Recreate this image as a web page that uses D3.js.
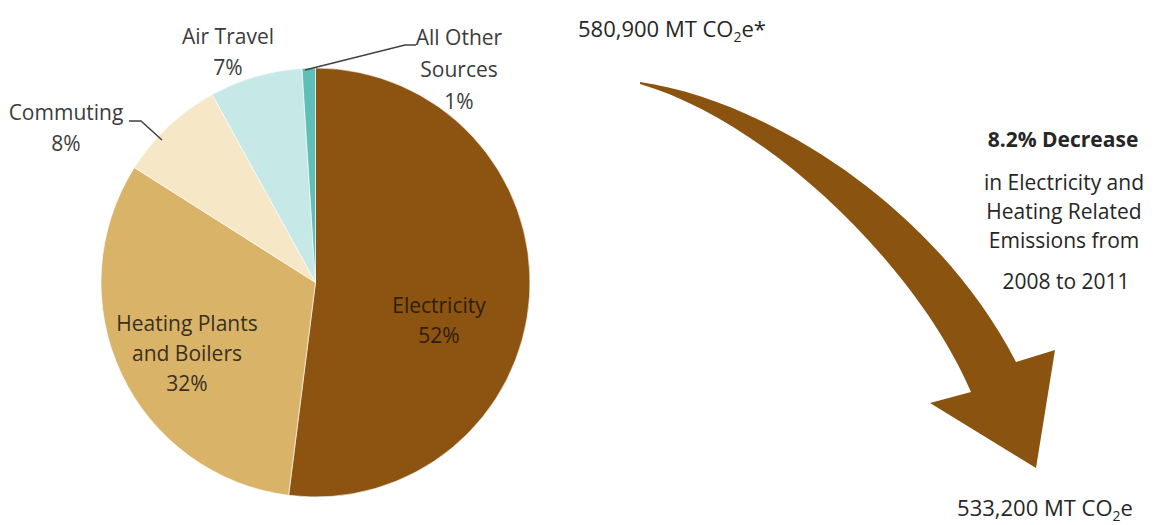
<!DOCTYPE html>
<html>
<head>
<meta charset="utf-8">
<script src="https://cdn.jsdelivr.net/npm/d3@7"></script>
<style>
  html, body { margin: 0; padding: 0; background: #fff; }
  svg { display: block; }
  text { font-family: "Open Sans", "DejaVu Sans", sans-serif; }
</style>
</head>
<body>
<script>
// ---- data ----
const categories = ["Electricity", "Heating Plants and Boilers", "Commuting", "Air Travel", "All Other Sources"];
const shares = [52, 32, 8, 7, 1];
const sliceColors = ["#8c5311", "#d9b468", "#f6e7c6", "#c6e9e7", "#5dbfb7"];
const labelLines = [
  ["Electricity", "52%"],
  ["Heating Plants", "and Boilers", "32%"],
  ["Commuting", "8%"],
  ["Air Travel", "7%"],
  ["All Other", "Sources", "1%"]
];
const totalBefore = "580,900";
const totalAfter = "533,200";
const decreaseTitle = "8.2% Decrease";
const decreaseLines = ["in Electricity and", "Heating Related", "Emissions from"];
const yearsLine = "2008 to 2011";

// ---- layout ----
const W = 1163, H = 525;
const cx = 315.5, cy = 282.5, R = 214.5;
const svg = d3.select("body").append("svg").attr("width", W).attr("height", H);

const pie = d3.pie().sort(null).value(d => d)(shares);
const arc = d3.arc().innerRadius(0).outerRadius(R);

const g = svg.append("g").attr("transform", `translate(${cx},${cy})`);
g.selectAll("path.slice").data(pie).join("path")
  .attr("class", "slice")
  .attr("d", arc)
  .attr("fill", (d, i) => sliceColors[i])
  .attr("stroke", "#ffffff")
  .attr("stroke-width", 0.6);

// label placement (layout only)
const labelPos = [
  { x: 439, y: 313, dy: 30, color: "#2e1e0a" },
  { x: 187, y: 331, dy: 30, color: "#3b3020" },
  { x: 66, y: 120, dy: 31, color: "#3c3c3c" },
  { x: 228, y: 44, dy: 31, color: "#3c3c3c" },
  { x: 459, y: 45, dy: 32, color: "#3c3c3c" }
];
labelLines.forEach((lines, i) => {
  const p = labelPos[i];
  const t = svg.append("text")
    .attr("text-anchor", "middle")
    .attr("font-size", 21)
    .attr("fill", p.color);
  lines.forEach((ln, j) => {
    t.append("tspan").attr("x", p.x).attr("y", p.y + j * p.dy).text(ln);
  });
});

// leader lines
const lineGen = d3.line();
svg.append("path")
  .attr("d", lineGen([[129, 121], [141, 121], [162, 140]]))
  .attr("fill", "none").attr("stroke", "#404040").attr("stroke-width", 1.5);
svg.append("path")
  .attr("d", lineGen([[305, 70], [405, 45], [416, 45]]))
  .attr("fill", "none").attr("stroke", "#404040").attr("stroke-width", 1.5);

// ---- right side texts ----
function co2Text(x, y, num, suffix, anchor) {
  const t = svg.append("text")
    .attr("x", x).attr("y", y)
    .attr("text-anchor", anchor)
    .attr("font-size", 22)
    .attr("fill", "#262626");
  t.append("tspan").text(num + " MT CO");
  t.append("tspan").attr("font-size", 14).attr("dy", 5).text("2");
  t.append("tspan").attr("dy", -5).text("e" + suffix);
  return t;
}
co2Text(578, 37, totalBefore, "*", "start");
co2Text(1045, 516, totalAfter, "", "middle");

svg.append("text")
  .attr("x", 1063).attr("y", 147)
  .attr("text-anchor", "middle")
  .attr("font-size", 21).attr("font-weight", "bold")
  .attr("fill", "#262626")
  .text(decreaseTitle);

const dt = svg.append("text")
  .attr("text-anchor", "middle")
  .attr("font-size", 21)
  .attr("fill", "#262626");
decreaseLines.forEach((ln, j) => {
  dt.append("tspan").attr("x", 1064).attr("y", 190 + j * 29).text(ln);
});
svg.append("text")
  .attr("x", 1066).attr("y", 289)
  .attr("text-anchor", "middle")
  .attr("font-size", 21)
  .attr("fill", "#262626")
  .text(yearsLine);

// ---- curved arrow (decoration) ----
const p = d3.path();
p.moveTo(640, 82);
p.bezierCurveTo(765, 100, 935, 205, 1016, 362);   // outer edge of shaft
p.lineTo(1055, 350);                               // right barb
p.lineTo(1036, 468);                               // tip
p.lineTo(930, 403);                                // left barb
p.lineTo(971, 392);                                // inner shaft joint
p.bezierCurveTo(918, 268, 770, 122, 640, 84);      // inner edge of shaft
p.closePath();
svg.append("path")
  .attr("d", p.toString())
  .attr("fill", "#8a5410");
</script>
</body>
</html>
